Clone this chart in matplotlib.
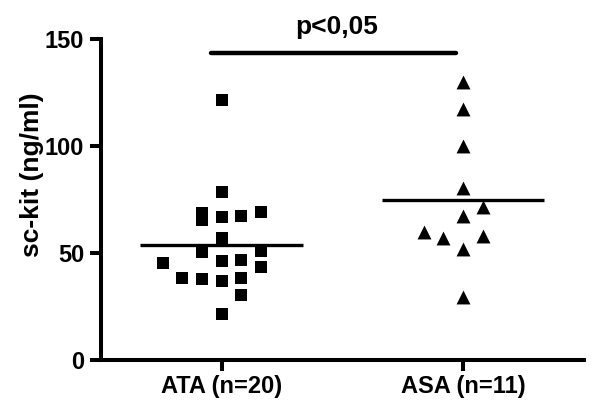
import numpy as np
import matplotlib.pyplot as plt

plt.rcParams['font.family'] = ['Liberation Sans', 'DejaVu Sans']
plt.rcParams['font.weight'] = 'bold'

# data
groups = ['ATA (n=20)', 'ASA (n=11)']
ata_values = [121.5, 78.4, 69.0, 65.6, 66.9, 67.2, 69.2, 57.0, 50.5, 51.2,
              45.5, 46.1, 46.7, 43.3, 38.3, 37.8, 37.0, 38.3, 30.5, 21.6]
ata_steps = [0, 0, -1, -1, 0, 1, 2, 0, -1, 2, -3, 0, 1, 2, -2, -1, 0, 1, 1, 0]
asa_values = [130.0, 117.2, 100.0, 80.5, 71.6, 67.2, 59.7, 57.0, 58.1, 51.9, 29.7]
asa_steps = [0, 0, 0, 0, 1, 0, -2, -1, 1, 0, 0]
group_lines = [53.9, 75.0]
p_text = 'p<0,05'
p_level = 143.5

step = 0.081
fig = plt.figure(figsize=(6.0, 4.08), dpi=100)
ax = fig.add_axes([0.168, 0.1176, 0.805, 0.786])

ax.scatter(1 + np.array(ata_steps) * step, ata_values, marker='s', s=80,
           color='black', linewidths=0, zorder=3, clip_on=False)
ax.scatter(2 + np.array(asa_steps) * step, asa_values, marker='^', s=100,
           color='black', linewidths=0, zorder=3, clip_on=False)

for i, m in enumerate(group_lines):
    ax.plot([i + 1 - 0.337, i + 1 + 0.337], [m, m], color='black', lw=2.4,
            solid_capstyle='butt', zorder=4)

ax.plot([0.957, 1.97], [p_level, p_level], color='black', lw=3.2,
        solid_capstyle='round', clip_on=False)
ax.text(1.475, 156, p_text, ha='center', va='center', fontsize=19,
        fontweight='bold', clip_on=False)

ax.set_xlim(0.5, 2.5)
ax.set_ylim(0, 150)
ax.set_yticks([0, 50, 100, 150])
ax.set_xticks([1, 2])
ax.set_xticklabels(groups)
ax.set_ylabel('sc-kit (ng/ml)', fontsize=19, fontweight='bold')
ax.yaxis.set_label_coords(-0.118, 0.578)

for s in ['top', 'right']:
    ax.spines[s].set_visible(False)
for s in ['left', 'bottom']:
    ax.spines[s].set_linewidth(2.9)
    ax.spines[s].set_capstyle('projecting')
ax.tick_params(axis='both', width=2.9, length=8, labelsize=17, pad=3)
ax.tick_params(axis='y', pad=4)
for lab in ax.get_xticklabels() + ax.get_yticklabels():
    lab.set_fontweight('bold')

fig.savefig('out.png', dpi=100)
